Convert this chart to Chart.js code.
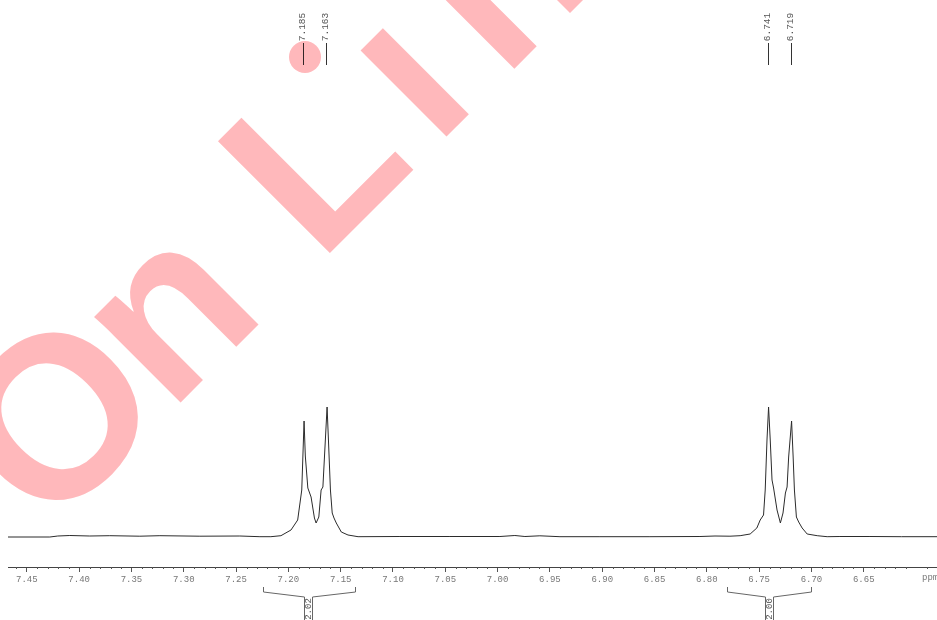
<!DOCTYPE html>
<html lang="en">
<head>
  <meta charset="UTF-8">
  <title>1H NMR spectrum 6.58-7.47 ppm</title>
  <script src="https://cdn.jsdelivr.net/npm/chart.js"></script>
  <style>
    html, body { margin: 0; padding: 0; background: #fff; }
    #wrap { width: 937px; height: 620px; position: relative; }
  </style>
</head>
<body>
  <div id="wrap"><canvas id="nmr"></canvas></div>

  <script>
    // spectrum trace: chemical shift (ppm) and intensity (a.u.)
    const shifts = [
      7.4682, 7.4280, 7.4204, 7.4089, 7.3898, 7.3707, 7.3420, 7.3228, 7.2846, 7.2464,
      7.2272, 7.2167, 7.2071, 7.1975, 7.1911, 7.1872, 7.1850, 7.1838, 7.1814, 7.1783,
      7.1751, 7.1735, 7.1709, 7.1687, 7.1670, 7.1655, 7.1630, 7.1617, 7.1598, 7.1581,
      7.1564, 7.1542, 7.1494, 7.1430, 7.1334, 7.0934, 7.0456, 6.9978, 6.9835, 6.9739,
      6.9596, 6.9404, 6.9022, 6.8544, 6.8066, 6.7922, 6.7779, 6.7682, 6.7586, 6.7522,
      6.7490, 6.7458, 6.7442, 6.7425, 6.7410, 6.7394, 6.7377, 6.7362, 6.7329, 6.7297,
      6.7272, 6.7249, 6.7233, 6.7218, 6.7190, 6.7175, 6.7163, 6.7144, 6.7122, 6.7089,
      6.7041, 6.6945, 6.6850, 6.6728, 6.6441, 6.6138, 6.5800
    ];
    const intensity = [
      0, 0, 1, 1.5, 1, 1.3, 0.8, 1.3, 0.8, 1,
      0.3, 0.3, 1.3, 7, 17, 47, 116, 81, 49, 40,
      19, 14, 20, 47, 50, 80, 130, 97, 47, 24,
      19, 14, 5, 2, 0.3, 0.5, 0.5, 0.5, 1.5, 0.5,
      1.2, 0.3, 0.3, 0.3, 0.5, 1, 0.8, 1.3, 3, 9,
      17, 22, 47, 97, 130, 97, 57, 49, 27, 14,
      24, 44, 50, 80, 116, 80, 47, 20, 15, 9,
      3, 1.3, 0.3, 0.5, 0.5, 0.3, 0.3
    ];

    const tickLabels = ['7.45', '7.40', '7.35', '7.30', '7.25', '7.20', '7.15', '7.10', '7.05',
                        '7.00', '6.95', '6.90', '6.85', '6.80', '6.75', '6.70', '6.65'];

    const peakLabels = ['7.185', '7.163', '6.741', '6.719'];

    const integralLabels = ['2.02', '2.00'];
    const integralFrom = [7.2247, 6.781];
    const integralTo = [7.1364, 6.700];
    const integralMid = [7.181, 6.741];

    const AXIS_Y = 567;

    // watermark letters and where each one starts along the diagonal baseline
    const markChars = ['O', 'n', 'L', 'ı', 'n', 'e'];
    const markOffsets = [-345, -173, 39, 203, 299, 440];

    const decorations = {
      id: 'decorations',
      afterDraw(chart) {
        const ctx = chart.ctx;
        const xs = chart.scales.x;
        ctx.save();

        // minor ticks every 0.01 ppm
        ctx.strokeStyle = '#555';
        ctx.lineWidth = 1;
        for (let i = 659; i <= 746; i++) {
          if (i % 5 === 0) continue;
          const px = Math.round(xs.getPixelForValue(i / 100)) + 0.5;
          ctx.beginPath();
          ctx.moveTo(px, AXIS_Y);
          ctx.lineTo(px, AXIS_Y + 2);
          ctx.stroke();
        }

        ctx.fillStyle = '#777';
        ctx.font = '9px "Liberation Mono", monospace';
        ctx.textBaseline = 'middle';
        ctx.textAlign = 'left';
        ctx.fillText('ppm', 922, 578);

        // peak pick labels
        ctx.font = '9.5px "Liberation Mono", monospace';
        peakLabels.forEach(lbl => {
          const px = Math.round(xs.getPixelForValue(parseFloat(lbl))) - 0.5;
          ctx.strokeStyle = '#333';
          ctx.beginPath();
          ctx.moveTo(px, 43);
          ctx.lineTo(px, 65);
          ctx.stroke();
          ctx.save();
          ctx.translate(px - 1, 27);
          ctx.rotate(-Math.PI / 2);
          ctx.textAlign = 'center';
          ctx.fillStyle = '#555';
          ctx.fillText(lbl, 0, 0);
          ctx.restore();
        });

        // integral brackets
        ctx.strokeStyle = '#666';
        integralLabels.forEach((lbl, i) => {
          const xl = Math.round(xs.getPixelForValue(integralFrom[i])) + 0.5;
          const xr = Math.round(xs.getPixelForValue(integralTo[i])) + 0.5;
          const xc = Math.round(xs.getPixelForValue(integralMid[i])) + 0.5;
          ctx.beginPath();
          ctx.moveTo(xl, 587);
          ctx.lineTo(xl, 592);
          ctx.lineTo(xc - 4, 597);
          ctx.lineTo(xc - 4, 620);
          ctx.moveTo(xr, 587);
          ctx.lineTo(xr, 592);
          ctx.lineTo(xc + 4, 597);
          ctx.lineTo(xc + 4, 620);
          ctx.stroke();
          ctx.save();
          ctx.translate(xc, 609);
          ctx.rotate(-Math.PI / 2);
          ctx.textAlign = 'center';
          ctx.fillStyle = '#555';
          ctx.font = '9px "Liberation Mono", monospace';
          ctx.fillText(lbl, 0, 0);
          ctx.restore();
        });

        // watermark, multiplied over the drawing
        ctx.globalCompositeOperation = 'multiply';
        ctx.fillStyle = '#ffb8bb';
        ctx.beginPath();
        ctx.arc(305, 57, 16, 0, Math.PI * 2);
        ctx.fill();
        ctx.translate(291.5, 291.5);
        ctx.rotate(-Math.PI / 4);
        ctx.font = 'bold 230px "Liberation Sans", sans-serif';
        ctx.textBaseline = 'alphabetic';
        ctx.textAlign = 'left';
        markChars.forEach((c, i) => ctx.fillText(c, markOffsets[i], 0));
        ctx.restore();
      }
    };

    const ctx = document.getElementById('nmr').getContext('2d');
    new Chart(ctx, {
      type: 'line',
      data: {
        datasets: [{
          data: shifts.map((s, i) => ({ x: s, y: intensity[i] })),
          borderColor: '#2b2b2b',
          borderWidth: 1,
          pointRadius: 0,
          tension: 0,
          fill: false
        }]
      },
      options: {
        responsive: true,
        maintainAspectRatio: false,
        animation: false,
        events: [],
        layout: { padding: { left: 8, right: 0, top: 0, bottom: 0 } },
        plugins: { legend: { display: false }, tooltip: { enabled: false } },
        scales: {
          x: {
            type: 'linear',
            reverse: true,
            min: 6.58,
            max: 7.468,
            afterBuildTicks(scale) {
              scale.ticks = tickLabels.map(t => ({ value: parseFloat(t) }));
            },
            afterFit(scale) { scale.height = 620 - AXIS_Y; },
            ticks: {
              autoSkip: false,
              maxRotation: 0,
              padding: 2,
              color: '#777',
              font: { family: '"Liberation Mono", monospace', size: 9 },
              callback: v => v.toFixed(2)
            },
            grid: { drawOnChartArea: false, tickLength: 5, tickColor: '#555' },
            border: { color: '#444', width: 1 }
          },
          y: {
            display: false,
            min: -30,
            max: 537
          }
        }
      },
      plugins: [decorations]
    });
  </script>
</body>
</html>
